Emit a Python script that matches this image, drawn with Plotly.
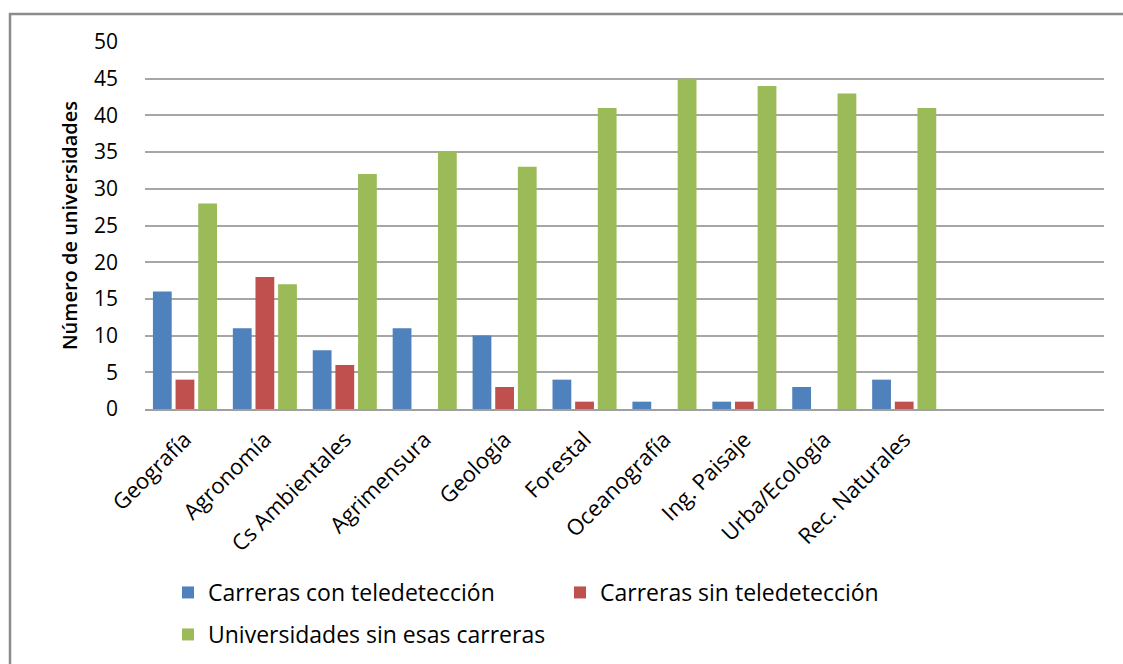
import plotly.graph_objects as go

categories = ["Geografía", "Agronomía", "Cs Ambientales", "Agrimensura", "Geología",
              "Forestal", "Oceanografía", "Ing. Paisaje", "Urba/Ecología", "Rec. Naturales"]
con_teledeteccion = [16, 11, 8, 11, 10, 4, 1, 1, 3, 4]
sin_teledeteccion = [4, 18, 6, 0, 3, 1, 0, 1, 0, 1]
universidades_sin = [28, 17, 32, 35, 33, 41, 45, 44, 43, 41]
series_names = ["Carreras con teledetección", "Carreras sin teledetección",
                "Universidades sin esas carreras"]
colors = ["#4F81BD", "#C0504D", "#9BBB59"]
y_ticks = [0, 5, 10, 15, 20, 25, 30, 35, 40, 45, 50]

W, H = 1123, 664
L, R, T, B = 145, 19, 42, 255
pw, ph = W - L - R, H - T - B

def px_x(x):
    return (x - L) / pw

def px_y(y):
    return (H - B - y) / ph

FONT = "'Open Sans', Lato, sans-serif"

fig = go.Figure()
for name, vals, col, lg in zip(series_names,
                               [con_teledeteccion, sin_teledeteccion, universidades_sin],
                               colors, ["legend", "legend", "legend2"]):
    fig.add_trace(go.Bar(x=categories, y=vals, name=name, marker_color=col,
                         marker_line_width=0, legend=lg))

fig.update_layout(
    width=W, height=H,
    margin=dict(l=L, r=R, t=T, b=B, autoexpand=False),
    paper_bgcolor="white", plot_bgcolor="white",
    barmode="group", bargap=0.15, bargroupgap=0.17,
    font=dict(family=FONT, color="#000000"),
    xaxis=dict(type="category", range=[-0.5, 11.5], tickangle=-45,
               tickfont=dict(size=22, family=FONT), showgrid=False,
               showline=True, linecolor="#A0A0A0", linewidth=2, ticks="",
               ticklabelstandoff=7, automargin=False, fixedrange=True),
    yaxis=dict(range=[0, 50], tickvals=y_ticks, showgrid=True, gridcolor="#A6A6A6",
               gridwidth=1.5, zeroline=False, showline=False, ticks="",
               tickfont=dict(size=21, family=FONT), ticklabelstandoff=26,
               automargin=False,
               title=dict(text="Número de universidades",
                          font=dict(size=20, family=FONT, weight=600), standoff=10)),
    legend=dict(orientation="h", x=px_x(168), y=px_y(571), xanchor="left", yanchor="top",
                entrywidth=347, entrywidthmode="pixels", itemwidth=30,
                font=dict(size=23, family=FONT), bgcolor="rgba(0,0,0,0)",
                itemclick=False, itemdoubleclick=False),
    legend2=dict(orientation="h", x=px_x(168), y=px_y(613), xanchor="left", yanchor="top",
                 itemwidth=30,
                 font=dict(size=23, family=FONT), bgcolor="rgba(0,0,0,0)",
                 itemclick=False, itemdoubleclick=False),
    shapes=[dict(type="rect", xref="paper", yref="paper",
                 x0=px_x(10), x1=px_x(1140), y0=px_y(700), y1=px_y(14),
                 line=dict(color="#8C8C8C", width=2.5), fillcolor="rgba(0,0,0,0)",
                 layer="below")],
)

fig.write_html("out.html")
